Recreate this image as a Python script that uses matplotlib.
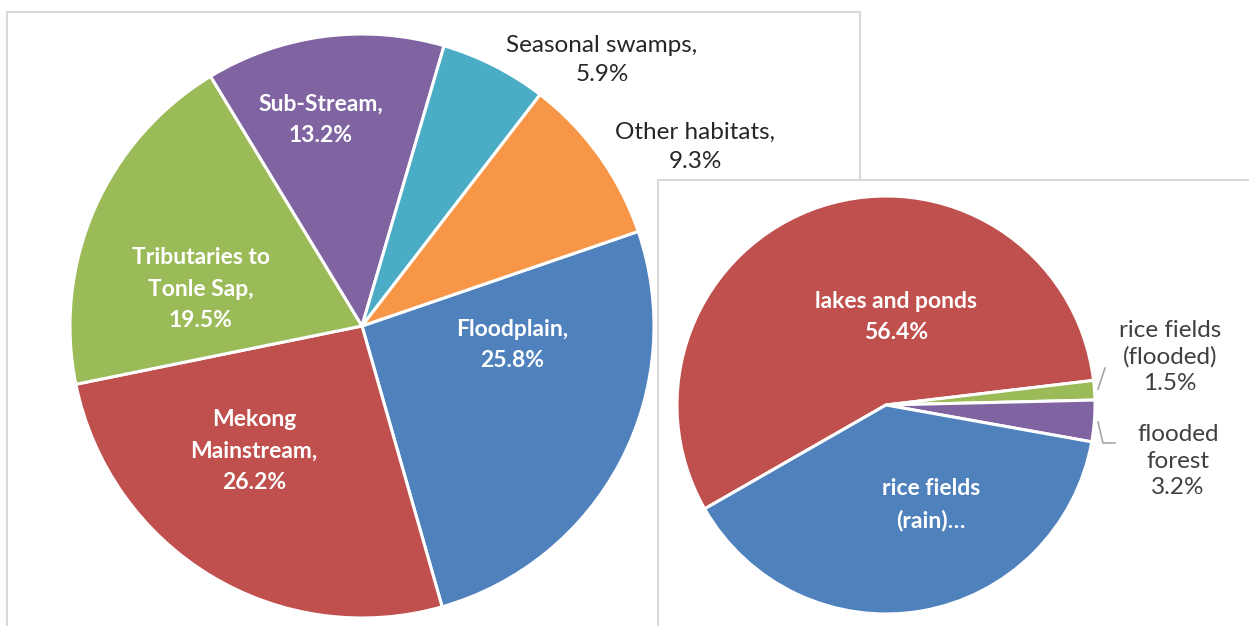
import numpy as np
import matplotlib.pyplot as plt
from matplotlib.patches import Rectangle

plt.rcParams['font.family'] = ['Lato', 'DejaVu Sans']

# habitat shares, main pie
habitats = ['Floodplain', 'Mekong\nMainstream', 'Tributaries to\nTonle Sap',
            'Sub-Stream', 'Seasonal swamps', 'Other habitats']
shares = [25.8, 26.2, 19.5, 13.2, 5.9, 9.3]
colors = ['#4F81BD', '#C0504D', '#9BBB59', '#8064A2', '#4BACC6', '#F79646']

# breakdown of "other habitats"
other = ['lakes and ponds', 'rice fields\n(flooded)', 'flooded\nforest', 'rice fields\n(rain)…']
other_shares = [56.4, 1.5, 3.2, 38.9]
other_colors = ['#C0504D', '#9BBB59', '#8064A2', '#4F81BD']

W, H = 1249, 626
fig = plt.figure(figsize=(W / 100, H / 100), dpi=100)


def px_axes(cx, cy, r, z):
    ax = fig.add_axes([(cx - r) / W, (H - cy - r) / H, 2 * r / W, 2 * r / H])
    ax.set_zorder(z)
    return ax


def to_data(cx, cy, r, x, y):
    return (x - cx) / r, (cy - y) / r


# chart frames
fig.add_artist(Rectangle((7 / W, -0.1), (860 - 7) / W, (H - 12) / H + 0.1,
                         transform=fig.transFigure, facecolor='white',
                         edgecolor='#D9D9D9', linewidth=1.5, zorder=0))
fig.add_artist(Rectangle((658 / W, -0.1), 0.6, (H - 180) / H + 0.1,
                         transform=fig.transFigure, facecolor='white',
                         edgecolor='#D9D9D9', linewidth=1.5, zorder=2))

# main pie
cx, cy, r = 362, 326, 292
ax = px_axes(cx, cy, r, 1)
ax.pie(shares, colors=colors, startangle=18.9, counterclock=False, radius=1,
       wedgeprops=dict(edgecolor='white', linewidth=2.2))
ax.set_xlim(-1, 1)
ax.set_ylim(-1, 1)
ax.set_aspect('equal')
ax.axis('off')

main_pos = [(512, 345), (254, 451), (201, 289), (321, 120), (602, 60), (695, 147)]
inside = [True, True, True, True, False, False]
for name, val, (x, y), ins in zip(habitats, shares, main_pos, inside):
    tx, ty = to_data(cx, cy, r, x, y)
    ax.text(tx, ty, f'{name},\n{val}%', ha='center', va='center',
            fontsize=16.5 if ins else 17.5, linespacing=1.6 if ins else 1.52,
            clip_on=False, color='white' if ins else '#262626',
            fontweight='bold' if ins else 'normal')

# secondary pie
cx2, cy2, r2 = 886, 405, 209
ax2 = px_axes(cx2, cy2, r2, 3)
wedges, _ = ax2.pie(other_shares, colors=other_colors, startangle=209.8,
                    counterclock=False, radius=1,
                    wedgeprops=dict(edgecolor='white', linewidth=2.2))
ax2.set_xlim(-1, 1)
ax2.set_ylim(-1, 1)
ax2.set_aspect('equal')
ax2.axis('off')

other_pos = [(896, 317), (1170, 357), (1178, 461), (931, 505)]
inside2 = [True, False, False, True]
for name, val, (x, y), ins in zip(other, other_shares, other_pos, inside2):
    tx, ty = to_data(cx2, cy2, r2, x, y)
    label = f'{name}\n{val}%' if not name.endswith('…') else name
    ax2.text(tx, ty, label, ha='center', va='center',
             fontsize=16.5 if ins else 17.5, linespacing=1.6 if ins else 1.32,
             clip_on=False, color='white' if ins else '#404040',
             fontweight='bold' if ins else 'normal')

# leader lines for the two thin slices
leaders = [[(1098, 389), (1105, 368)],
           [(1098, 422), (1103, 443), (1115, 443)]]
for pts in leaders:
    xs, ys = zip(*[to_data(cx2, cy2, r2, x, y) for x, y in pts])
    ax2.plot(xs, ys, color='#A6A6A6', linewidth=1.2, clip_on=False)

fig.savefig('out.png', dpi=100)
